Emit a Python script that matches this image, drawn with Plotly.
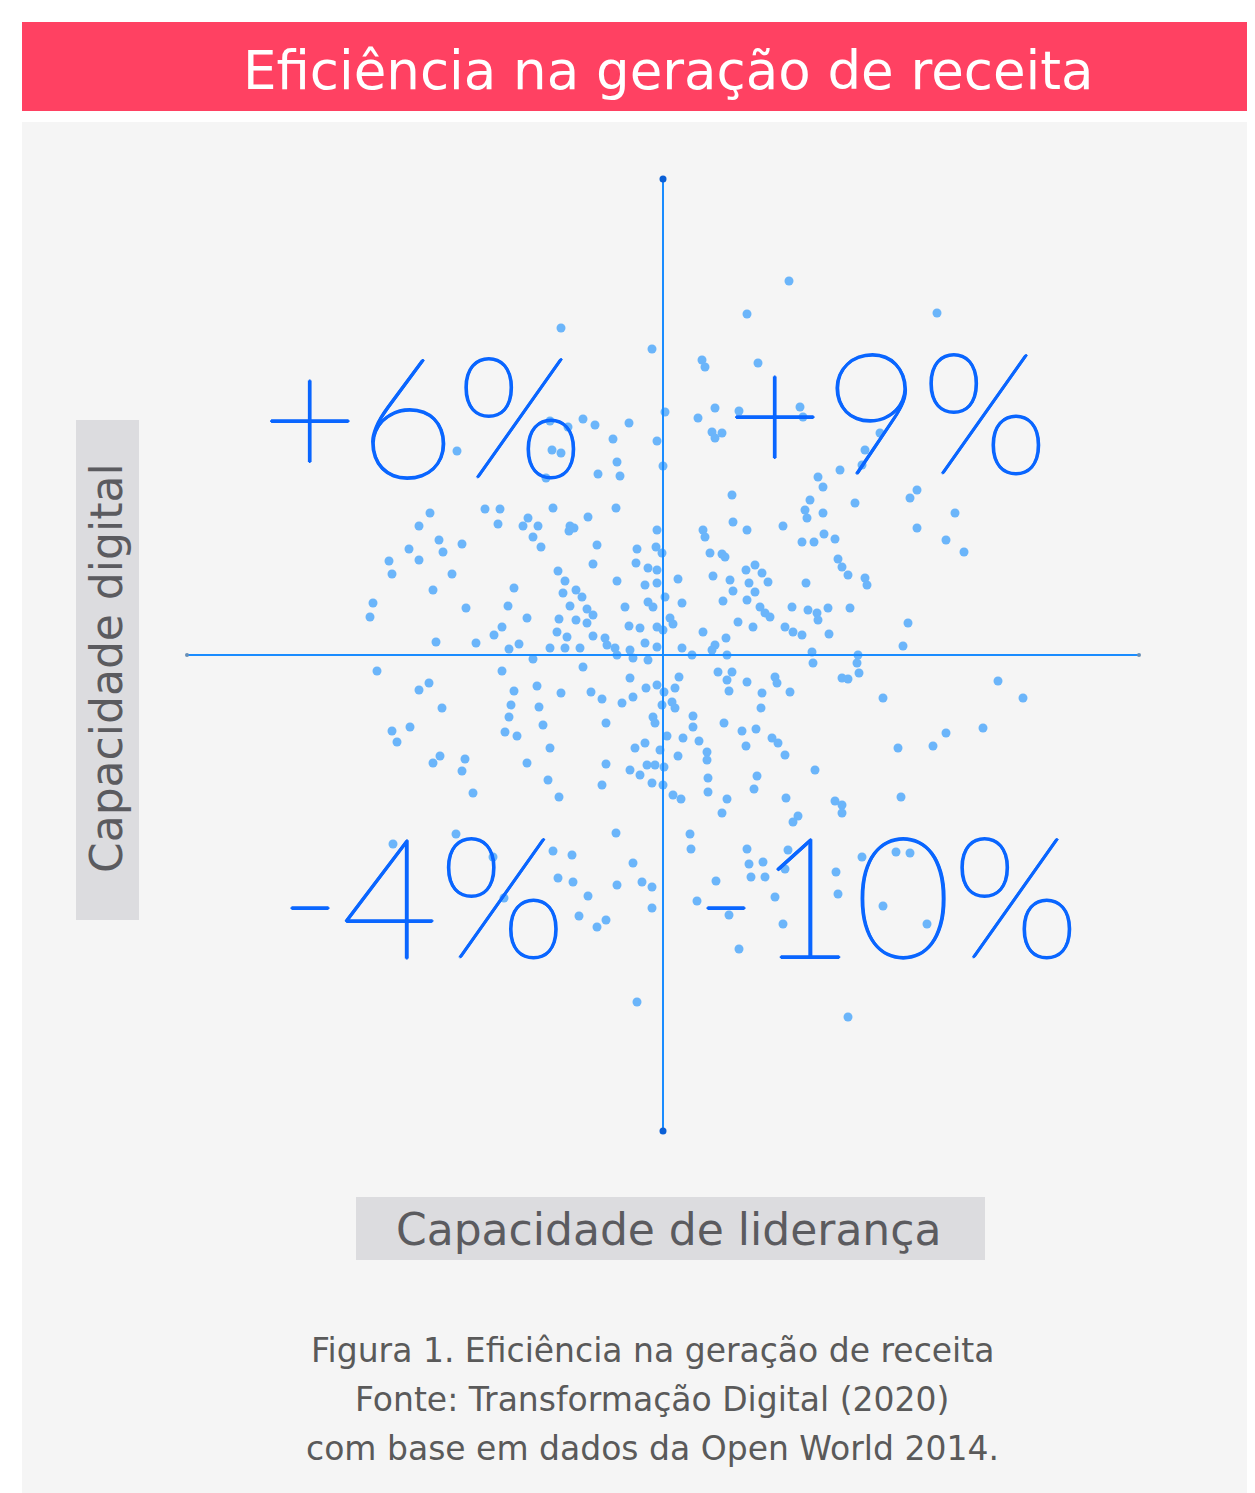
import plotly.graph_objects as go

# page offset (default body margin of the html page)
OFF = 8
W, H = 1255 - OFF, 1493 - OFF

# ---- data (index scores; 0 = average) ----
x_lideranca = [126,84,274,-102,-11,39,42,95,-206,-80,-68,-34,-50,-46,-43,-65,-111,-102,-113,-95,-117,2,-6,0,-233,-244,-178,-163,-165,-135,-140,-125,-110,-75,-47,-93,
 52,35,76,49,52,59,137,140,217,202,199,177,155,160,69,70,147,142,144,160,192,254,247,292,120,40,84,254,283,301,
 -94,-89,-6,-224,-220,-201,-254,-274,-271,-244,-211,-230,-130,-122,-66,-26,-7,-1,-70,-105,-98,-100,-87,-81,-46,-27,-15,-6,-18,-6,2,-149,-155,-136,-161,-169,-93,-76,-70,-104,-87,-76,-106,-96,-70,-58,-38,-34,-23,-15,-10,-6,0,-290,-293,-197,-227,-187,-144,-154,-113,-98,-83,-56,-48,-46,-33,-30,-18,-15,-6,-130,-286,-161,-80,-33,-234,-244,-149,-126,-102,-72,-61,-41,-30,-17,-6,-1,-221,-152,-154,-124,-120,-57,-10,-8,-253,-271,-266,-158,-146,-113,-28,-18,-3,-223,-230,-198,-201,-136,-57,-33,-23,-16,-8,-115,
 42,139,151,161,172,47,59,62,175,179,185,202,204,15,50,67,70,83,92,99,105,86,92,84,60,143,19,7,10,97,102,107,129,145,154,155,165,187,75,90,40,122,130,139,166,245,240,63,52,49,19,29,64,149,150,195,194,196,179,185,335,360,220,16,12,1,9,12,55,69,64,66,84,112,114,127,99,98,30,30,61,79,93,4,20,36,44,44,15,83,109,115,122,320,283,270,235,152,94,45,1,
 -190,-104,-61,-11,0,-47,-110,-91,-30,-105,-90,-46,-21,-11,-75,-11,-84,-66,-57,-26,-270,-207,-170,-159,
 10,18,45,91,64,59,123,172,179,179,238,135,130,27,28,84,125,86,100,88,102,122,173,175,199,233,247,53,34,112,66,120,220,264,76,185]
y_digital = [374,341,342,327,306,295,288,292,204,236,230,232,216,193,179,181,205,202,234,228,177,243,214,189,142,129,146,146,131,137,129,129,147,138,147,129,
 247,237,244,223,217,222,248,238,222,205,190,185,178,168,160,133,155,145,137,142,152,165,157,142,129,125,125,127,115,103,
 124,127,125,115,103,111,106,94,81,95,81,65,118,108,110,106,108,102,91,84,74,62,65,58,74,92,87,85,70,72,58,67,49,37,28,20,49,46,40,36,35,32,23,18,19,17,48,29,27,53,48,28,25,52,38,47,13,12,11,6,7,7,7,10,7,0,5,-3,12,-5,8,-4,-16,-16,-12,-23,-28,-35,-36,-31,-38,-37,-44,-48,-42,-33,-30,-50,-53,-50,-62,-52,-70,-68,-62,-68,-72,-76,-87,-77,-81,-93,-93,-88,-95,-101,-108,-104,-116,-108,-109,-115,-120,-110,-110,-125,
 118,113,113,121,116,102,101,98,96,88,80,77,70,76,79,75,64,85,90,82,73,72,63,55,54,72,52,37,31,48,42,38,48,45,42,35,47,47,33,28,23,28,23,20,21,32,9,17,10,5,7,0,0,3,-8,0,-8,-18,-23,-24,-26,-43,-43,-22,-33,-37,-47,-53,-17,-17,-25,-36,-27,-22,-28,-37,-38,-53,-61,-72,-68,-76,-74,-81,-83,-86,-97,-105,-101,-91,-83,-88,-100,-73,-78,-91,-93,-115,-121,-123,-112,
 -138,-142,-130,-128,-130,-178,-196,-200,-208,-223,-227,-230,-227,-232,-241,-253,-261,-272,-265,-347,-189,-179,-202,-243,
 -140,-144,-137,-134,-144,-158,-143,-146,-150,-158,-142,-161,-167,-179,-194,-194,-195,-209,-207,-222,-222,-214,-217,-239,-202,-197,-198,-226,-246,-242,-260,-269,-251,-269,-294,-362]

AXIS_MIN, AXIS_MAX = -476, 476

quad_labels = ["+6%", "+9%", "-4%", "-10%"]
quad_x = [-241, 224, -241, 224]
quad_y = [242, 246, -238, -238]

title = "Eficiência na geração de receita"
x_title = "Capacidade de liderança"
y_title = "Capacidade digital"
caption = ["Figura 1. Eficiência na geração de receita",
           "Fonte: Transformação Digital (2020)",
           "com base em dados da Open World 2014."]

TEXT_FONT = "DejaVu Sans"
BIG_FONT = "Lato"
RED = "#ff4162"
PANEL = "#f5f5f5"
BOX = "#dcdcdf"
DOT = "#6bb5fa"
LINE = "#1a8cff"
LABEL_BLUE = "#0a66ff"
d = "0.9px"
THICKEN = ", ".join([f"{d} 0 0 {LABEL_BLUE}", f"-{d} 0 0 {LABEL_BLUE}",
                     f"0 {d} 0 {LABEL_BLUE}", f"0 -{d} 0 {LABEL_BLUE}"])

fig = go.Figure()

fig.add_trace(go.Scatter(x=x_lideranca, y=y_digital, mode="markers",
                         marker=dict(size=9, color=DOT, line=dict(width=0)),
                         hoverinfo="skip", showlegend=False))
# axis lines
fig.add_trace(go.Scatter(x=[AXIS_MIN, AXIS_MAX], y=[0, 0], mode="lines+markers",
                         line=dict(color=LINE, width=2),
                         marker=dict(size=4, color="#6a8fb5"),
                         hoverinfo="skip", showlegend=False))
fig.add_trace(go.Scatter(x=[0, 0], y=[AXIS_MIN, AXIS_MAX], mode="lines+markers",
                         line=dict(color=LINE, width=2),
                         marker=dict(size=7, color="#0a5fd6"),
                         hoverinfo="skip", showlegend=False))


def px(x):
    return (x - OFF) / W


def py(y):
    return 1 - (y - OFF) / H


shapes = [
    dict(type="rect", xref="paper", yref="paper", x0=px(22), x1=px(1255), y0=py(111), y1=py(22),
         fillcolor=RED, line=dict(width=0), layer="below"),
    dict(type="rect", xref="paper", yref="paper", x0=px(22), x1=px(1255), y0=py(1493), y1=py(122),
         fillcolor=PANEL, line=dict(width=0), layer="below"),
    dict(type="rect", xref="paper", yref="paper", x0=px(76), x1=px(139), y0=py(920), y1=py(420),
         fillcolor=BOX, line=dict(width=0), layer="below"),
    dict(type="rect", xref="paper", yref="paper", x0=px(356), x1=px(985), y0=py(1260), y1=py(1197),
         fillcolor=BOX, line=dict(width=0), layer="below"),
]

ann = []
ann.append(dict(text=title, xref="paper", yref="paper", x=px(668), y=py(70), showarrow=False,
                xanchor="center", yanchor="middle",
                font=dict(family=TEXT_FONT, size=53, color="white")))
for t, qx, qy in zip(quad_labels, quad_x, quad_y):
    ann.append(dict(text=t, x=qx, y=qy, xref="x", yref="y", showarrow=False,
                    xanchor="center", yanchor="middle",
                    font=dict(family=BIG_FONT, size=168, color=LABEL_BLUE, weight=200,
                              shadow=THICKEN)))
ann.append(dict(text=y_title, xref="paper", yref="paper", x=px(106), y=py(668), showarrow=False,
                textangle=-90, xanchor="center", yanchor="middle",
                font=dict(family=TEXT_FONT, size=44, color="#5b5b5f")))
ann.append(dict(text=x_title, xref="paper", yref="paper", x=px(668), y=py(1229), showarrow=False,
                xanchor="center", yanchor="middle",
                font=dict(family=TEXT_FONT, size=44, color="#5b5b5f")))
for i, line in enumerate(caption):
    ann.append(dict(text=line, xref="paper", yref="paper", x=px(652), y=py(1350 + 49 * i), showarrow=False,
                    xanchor="center", yanchor="middle",
                    font=dict(family=TEXT_FONT, size=33, color="#5a5a5a")))

fig.update_layout(
    width=W, height=H,
    margin=dict(l=0, r=0, t=0, b=0),
    paper_bgcolor="white", plot_bgcolor="rgba(0,0,0,0)",
    xaxis=dict(range=[OFF - 663, 1255 - 663], visible=False, showgrid=False, zeroline=False, fixedrange=True),
    yaxis=dict(range=[655 - 1493, 655 - OFF], visible=False, showgrid=False, zeroline=False, fixedrange=True),
    shapes=shapes, annotations=ann,
)

fig.write_html("out.html")
